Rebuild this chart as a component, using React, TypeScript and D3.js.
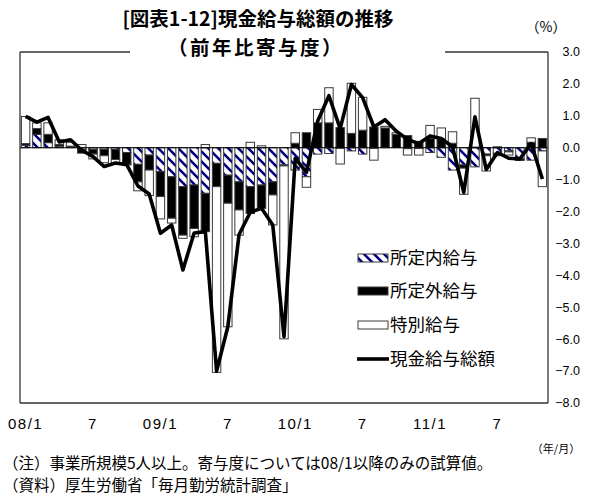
import React from 'react';
import * as d3 from 'd3';

const categories = [
  '08/1','08/2','08/3','08/4','08/5','08/6','08/7','08/8','08/9','08/10','08/11','08/12',
  '09/1','09/2','09/3','09/4','09/5','09/6','09/7','09/8','09/9','09/10','09/11','09/12',
  '10/1','10/2','10/3','10/4','10/5','10/6','10/7','10/8','10/9','10/10','10/11','10/12',
  '11/1','11/2','11/3','11/4','11/5','11/6','11/7','11/8','11/9','11/10','11/11'
];

// 所定内給与
const shoteinai = [0.08,0.42,0.16,0.05,0.03,-0.05,-0.05,-0.05,-0.05,-0.15,-0.52,-0.23,
  -0.75,-0.91,-1.22,-1.17,-1.43,-0.49,-0.86,-1.07,-1.22,-1.17,-1.07,-0.54,
  -0.70,-0.91,-0.20,-0.18,-0.02,-0.10,-0.20,-0.02,0.00,0.00,-0.03,-0.02,
  -0.15,-0.30,-0.70,-0.54,-0.60,-0.20,-0.20,-0.10,-0.35,-0.39,-0.10];
// 所定外給与
const shoteigai = [0.05,0.18,0.26,0.05,0.02,-0.12,-0.15,-0.20,-0.32,-0.37,-0.55,-0.47,
  -0.78,-1.30,-1.52,-1.36,-1.20,-0.73,-0.88,-0.88,-0.84,-0.73,-0.41,-0.03,
  0.14,0.47,0.78,0.78,0.63,0.45,0.55,0.65,0.62,0.42,0.38,0.20,
  0.30,0.27,0.14,-0.10,0.02,-0.05,-0.05,-0.03,-0.05,0.17,0.29];
// 特別給与
const tokubetsu = [0.85,0.18,0.36,0.15,0.12,0.10,-0.15,-0.22,-0.15,-0.02,-0.28,-0.80,
  -0.70,-0.15,-0.10,-0.26,0.10,-5.82,-3.87,-0.79,0.17,0.06,-0.94,-5.42,
  0.33,-0.33,0.42,1.10,-0.49,1.57,1.03,-0.37,0.05,0.05,-0.20,-0.21,
  0.40,0.35,0.36,-0.82,1.53,-0.48,0.03,-0.10,0.00,0.14,-1.12];
// 現金給与総額
const total = [0.98,0.80,0.95,0.18,0.25,-0.08,-0.28,-0.59,-0.48,-0.53,-1.20,-1.45,
  -2.68,-2.42,-3.83,-2.67,-2.63,-7.00,-5.61,-2.72,-2.02,-1.90,-2.42,-5.92,
  -0.33,-0.77,0.84,1.63,0.60,1.98,1.57,0.65,0.88,0.52,0.26,0.13,
  0.37,0.29,0.03,-1.40,0.97,-0.68,-0.15,-0.33,-0.35,0.13,-0.98];

const yTicks = [3,2,1,0,-1,-2,-3,-4,-5,-6,-7,-8];
const xTickCats = ['08/1','08/7','09/1','09/7','10/1','10/7','11/1','11/7'];
const xTickLabels = ['08/1','7','09/1','7','10/1','7','11/1','7'];
const seriesNames = ['所定内給与','所定外給与','特別給与'];
const lineName = '現金給与総額';

const JP = "'Noto Sans CJK JP', sans-serif";
const NUM = "'Liberation Sans', Arial, sans-serif";

export default function App() {
  const W = 593, H = 499;
  const left = 20, right = 548, top = 52, bottom = 403;

  const x = d3.scaleBand<string>().domain(categories).range([left, right])
    .paddingInner(0.25).paddingOuter(0.125);
  const y = d3.scaleLinear().domain([-8, 3]).range([bottom, top]);
  const fmt = d3.format('.1f');

  const rows = categories.map((c, i) => ({ cat: c, a: shoteinai[i], b: shoteigai[i], c: tokubetsu[i] }));
  const stacked = d3.stack<any>().keys(['a', 'b', 'c']).offset(d3.stackOffsetDiverging)(rows);
  const fills = ['url(#patNavy)', '#000000', '#ffffff'];

  const cx = (i: number) => (x(categories[i]) as number) + x.bandwidth() / 2;
  const linePath = d3.line<number>().x((_, i) => cx(i)).y(d => y(d))(total) || '';

  const legendX = 358, legendW = 30, legendTextX = 390;
  const legendY = [258, 291, 325, 359];

  return (
    <svg width={W} height={H} style={{ position: 'absolute', left: 0, top: 0, background: '#fff' }}>
      <defs>
        <pattern id="patNavy" width="10" height="10" patternUnits="userSpaceOnUse">
          <rect width="10" height="10" fill="#ffffff" />
          <path d="M-2,-2 L12,12 M-2,8 L2,12 M8,-2 L12,2" stroke="#000080" strokeWidth="2.6" />
        </pattern>
      </defs>
      <rect width={W} height={H} fill="#fff" />

      {/* bars */}
      {stacked.map((s, k) => (
        <g key={k}>
          {s.map((d: any, i: number) => {
            const y0 = y(d[0]), y1 = y(d[1]);
            const h = Math.abs(y0 - y1);
            if (h < 0.01) return null;
            return (
              <rect key={i} x={x(categories[i])} width={x.bandwidth()}
                y={Math.min(y0, y1)} height={h}
                fill={fills[k]} stroke="#3a3a3a" strokeWidth={1} />
            );
          })}
        </g>
      ))}

      {/* zero line */}
      <line x1={left} x2={right} y1={y(0)} y2={y(0)} stroke="#000" strokeWidth={1} />

      {/* total line */}
      <path d={linePath} fill="none" stroke="#000" strokeWidth={3.6} strokeLinejoin="round" />

      {/* frame */}
      <g stroke="#333" strokeWidth={1.3} fill="none">
        <line x1={left} x2={left} y1={top} y2={bottom} />
        <line x1={left} x2={right} y1={bottom} y2={bottom} />
        <line x1={right} x2={right} y1={top} y2={bottom} />
        <line x1={left} x2={130} y1={top} y2={top} />
        <line x1={445} x2={right} y1={top} y2={top} />
      </g>

      {/* y axis labels */}
      {yTicks.map(t => (
        <text key={t} x={580} y={y(t)} dy="0.35em" textAnchor="end"
          fontFamily={NUM} fontSize={12.5} fill="#000">{fmt(t)}</text>
      ))}

      {/* x axis labels */}
      {xTickCats.map((c, i) => (
        <text key={c} x={(x(c) as number) + x.bandwidth() / 2} y={424} dy="0.35em" textAnchor="middle"
          fontFamily={NUM} fontSize={15} letterSpacing={1.5} fill="#000">{xTickLabels[i]}</text>
      ))}

      {/* titles */}
      <text x={258} y={19} dy="0.35em" textAnchor="middle" fontFamily={JP} fontWeight={700}
        fontSize={19.5} fill="#000">[図表1-12]現金給与総額の推移</text>
      <text x={256} y={48} dy="0.35em" textAnchor="middle" fontFamily={JP} fontWeight={700}
        fontSize={19.5} letterSpacing={2.5} fill="#000">（前年比寄与度）</text>
      <text x={546} y={27} dy="0.35em" textAnchor="middle" fontFamily={JP}
        fontSize={14} fill="#000">（%）</text>

      {/* legend */}
      {seriesNames.map((n, k) => (
        <g key={n}>
          <rect x={legendX} y={legendY[k] - 4} width={legendW} height={8}
            fill={fills[k]} stroke="#3a3a3a" strokeWidth={1} />
          <text x={legendTextX} y={legendY[k]} dy="0.35em" fontFamily={JP} fontSize={17.5} fill="#000">{n}</text>
        </g>
      ))}
      <line x1={legendX - 1} x2={legendX + legendW + 1} y1={legendY[3]} y2={legendY[3]} stroke="#000" strokeWidth={3.6} />
      <text x={legendTextX} y={legendY[3]} dy="0.35em" fontFamily={JP} fontSize={17.5} fill="#000">{lineName}</text>

      {/* notes */}
      <text x={556} y={449} dy="0.35em" textAnchor="middle" fontFamily={JP} fontSize={11} fill="#000">（年/月）</text>
      <text x={3} y={464} dy="0.35em" fontFamily={JP} fontSize={15.5} fill="#000">（注）事業所規模5人以上。寄与度については08/1以降のみの試算値。</text>
      <text x={3} y={486} dy="0.35em" fontFamily={JP} fontSize={15.5} fill="#000">（資料）厚生労働省「毎月勤労統計調査」</text>
    </svg>
  );
}
